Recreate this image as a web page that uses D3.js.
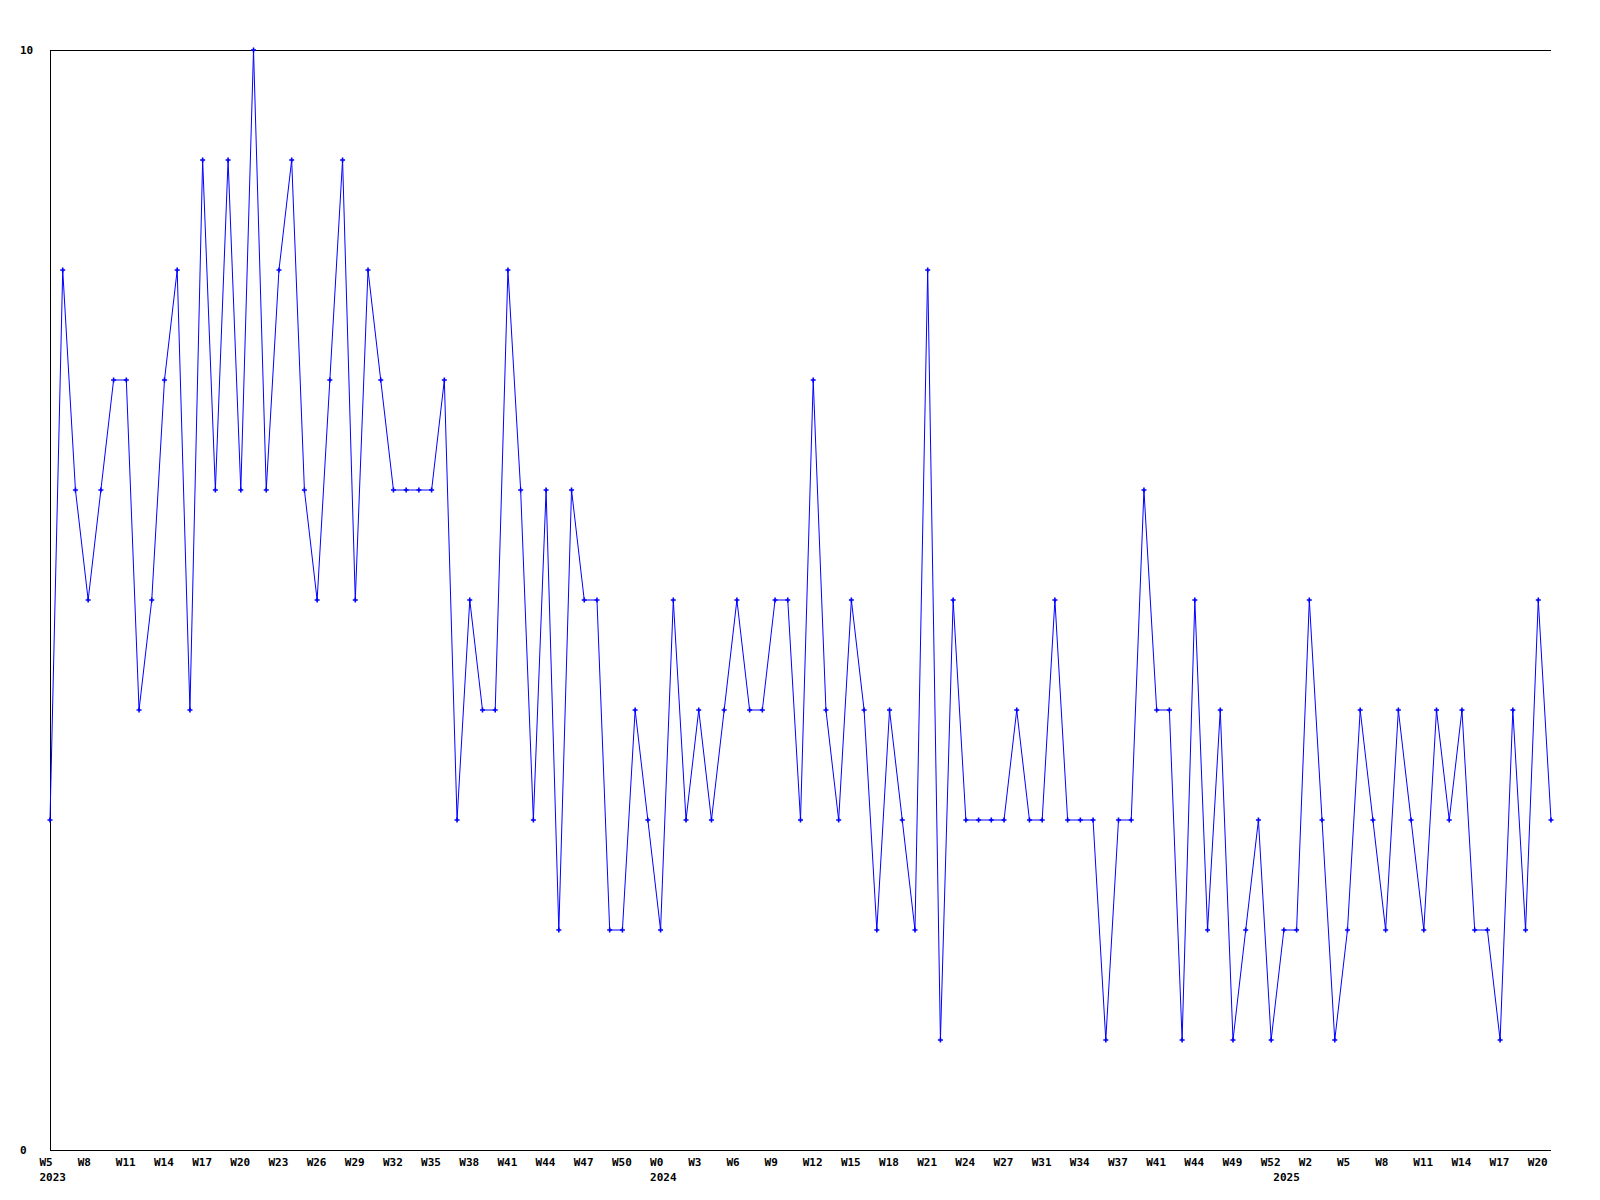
<!DOCTYPE html>
<html>
<head>
<meta charset="utf-8">
<script src="https://cdn.jsdelivr.net/npm/d3@7"></script>
<style>
  html, body { margin: 0; padding: 0; background: #fff; }
  svg { display: block; }
  text { font-family: "DejaVu Sans Mono", "Liberation Mono", monospace; font-weight: bold; font-size: 11px; fill: #000; }
</style>
</head>
<body>
<svg id="chart" width="1600" height="1200"></svg>
<script>
// Week label for every point (only every third one is shown on the axis)
const weekLabels = [
  "W5","W6","W7","W8","W9","W10","W11","W12","W13","W14","W15","W16","W17","W18","W19",
  "W20","W21","W22","W23","W24","W25","W26","W27","W28","W29","W30","W31","W32","W33","W34",
  "W35","W36","W37","W38","W39","W40","W41","W42","W43","W44","W45","W46","W47","W48","W49",
  "W50","W51","W52","W0","W1","W2","W3","W4","W5","W6","W7","W8","W9","W10","W11",
  "W12","W13","W14","W15","W16","W17","W18","W19","W20","W21","W22","W23","W24","W25","W26",
  "W27","W28","W30","W31","W32","W33","W34","W35","W36","W37","W38","W40","W41","W42","W43",
  "W44","W45","W47","W49","W50","W51","W52","W0","W1","W2","W3","W4","W5","W6","W7",
  "W8","W9","W10","W11","W12","W13","W14","W15","W16","W17","W18","W19","W20","W21"
];
// Year labels shown under the first week of each year (point index)
const yearLabels = ["2023", "2024", "2025"];
const yearIndex = [0, 48, 97];

// Values per point
const values = [
  3,8,6,5,6,7,7,4,5,7,8,4,9,6,9,6,10,6,8,9,
  6,5,7,9,5,8,7,6,6,6,6,7,3,5,4,4,8,6,3,6,
  2,6,5,5,2,2,4,3,2,5,3,4,3,4,5,4,4,5,5,3,
  7,4,3,5,4,2,4,3,2,8,1,5,3,3,3,3,4,3,3,5,
  3,3,3,1,3,3,6,4,4,1,5,2,4,1,2,3,1,2,2,5,
  3,1,2,4,3,2,4,3,2,4,3,4,2,2,1,4,2,5,3
];

const yTickValues = [0, 10];
const labelEvery = 3;

const svg = d3.select("#chart");
const mLeft = 50, mRight = 1551, mTop = 50, mBottom = 1150;

const x = d3.scaleLinear().domain([0, values.length - 1]).range([mLeft, mRight]);
const y = d3.scaleLinear().domain([0, 10]).range([mBottom, mTop]);

// Frame: top, left, bottom lines
svg.append("path")
  .attr("d", `M${mRight},${mTop + 0.5}H${mLeft + 0.5}V${mBottom + 0.5}H${mRight}`)
  .attr("fill", "none").attr("stroke", "#000").attr("stroke-width", 1)
  .attr("shape-rendering", "crispEdges");

// Y labels
svg.selectAll("text.ylab").data(yTickValues).enter().append("text")
  .attr("class", "ylab")
  .attr("x", 20)
  .attr("y", d => y(d) + 4)
  .text(d => d);

// X labels
const idx = d3.range(0, values.length, labelEvery);
svg.selectAll("text.xlab").data(idx).enter().append("text")
  .attr("class", "xlab")
  .attr("x", i => x(i) - 10.5)
  .attr("y", 1166)
  .text(i => weekLabels[i]);

svg.selectAll("text.year").data(yearLabels).enter().append("text")
  .attr("class", "year")
  .attr("x", (d, k) => x(yearIndex[k]) - 10.5)
  .attr("y", 1181)
  .text(d => d);

// Line
const line = d3.line().x((d, i) => x(i)).y(d => y(d));
svg.append("path")
  .datum(values)
  .attr("d", line)
  .attr("fill", "none")
  .attr("stroke", "#0000ff")
  .attr("stroke-width", 1);

// Markers
svg.selectAll("path.mk").data(values).enter().append("path")
  .attr("class", "mk")
  .attr("transform", (d, i) => `translate(${x(i)},${y(d)})`)
  .attr("d", "M-2.5,0H2.5M0,-2.5V2.5")
  .attr("stroke", "#0000ff")
  .attr("stroke-width", 1.6)
  .attr("fill", "none");
</script>
</body>
</html>
